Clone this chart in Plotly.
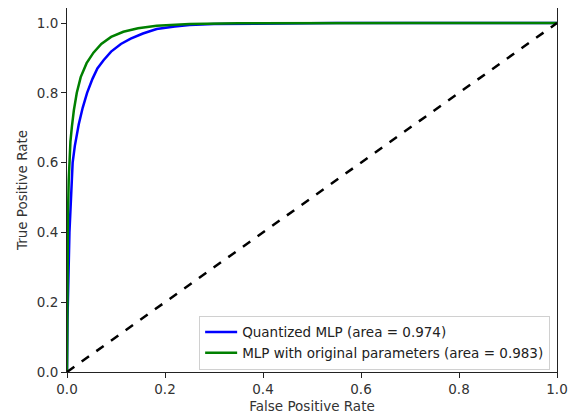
import plotly.graph_objects as go

# Quantized MLP ROC curve
fpr_quant = [0, 0.001, 0.005, 0.008, 0.0115, 0.016, 0.024, 0.032, 0.041, 0.052, 0.062, 0.075, 0.09, 0.11, 0.13, 0.155, 0.183, 0.22, 0.25, 0.3, 0.4, 0.55, 0.75, 1.0]
tpr_quant = [0, 0.15, 0.4, 0.51, 0.6, 0.648, 0.71, 0.757, 0.8, 0.84, 0.87, 0.894, 0.918, 0.94, 0.955, 0.97, 0.983, 0.99, 0.994, 0.997, 0.999, 1.0, 1.0, 1.0]

# MLP with original parameters ROC curve
fpr_orig = [0, 0.0005, 0.002, 0.0035, 0.0047, 0.007, 0.010, 0.014, 0.020, 0.028, 0.040, 0.054, 0.07, 0.09, 0.115, 0.145, 0.183, 0.25, 0.35, 0.5, 0.7, 1.0]
tpr_orig = [0, 0.2, 0.45, 0.55, 0.6, 0.66, 0.703, 0.75, 0.8, 0.845, 0.885, 0.915, 0.94, 0.96, 0.975, 0.985, 0.992, 0.997, 0.999, 1.0, 1.0, 1.0]

diag = [0, 1]
tick_vals = [0.0, 0.2, 0.4, 0.6, 0.8, 1.0]
tick_text = ["0.0", "0.2", "0.4", "0.6", "0.8", "1.0"]

FS = 13.5

fig = go.Figure()
fig.add_trace(go.Scatter(x=fpr_quant, y=tpr_quant, mode="lines",
                         line=dict(color="#0000ff", width=2.5),
                         name="Quantized MLP (area = 0.974)"))
fig.add_trace(go.Scatter(x=fpr_orig, y=tpr_orig, mode="lines",
                         line=dict(color="#008000", width=2.5),
                         name="MLP with original parameters (area = 0.983)"))
fig.add_trace(go.Scatter(x=diag, y=diag, mode="lines",
                         line=dict(color="black", width=2.5, dash="dash"),
                         showlegend=False))

axis_common = dict(showgrid=False, zeroline=False, showline=True, linecolor="#222",
                   linewidth=1, mirror=True, ticks="outside", ticklen=5,
                   tickcolor="#222", tickvals=tick_vals, ticktext=tick_text,
                   tickfont=dict(size=FS, color="#333"))

fig.update_layout(
    width=574, height=409,
    margin=dict(l=59, r=25, t=0, b=45),
    paper_bgcolor="white", plot_bgcolor="white",
    font=dict(family="DejaVu Sans", size=FS, color="#333"),
    xaxis=dict(range=[0, 1], title=dict(text="False Positive Rate", standoff=5,
               font=dict(size=FS)), **axis_common),
    yaxis=dict(range=[0, 1.043], title=dict(text="True Positive Rate", standoff=6,
               font=dict(size=FS)), **axis_common),
    legend=dict(x=0.986, y=0.006, xanchor="right", yanchor="bottom",
                bordercolor="#d0d0d0", borderwidth=1, bgcolor="rgba(255,255,255,0.8)",
                font=dict(size=FS, color="#222"), tracegroupgap=0, itemwidth=32),
    showlegend=True,
)

fig.write_html("out.html")
